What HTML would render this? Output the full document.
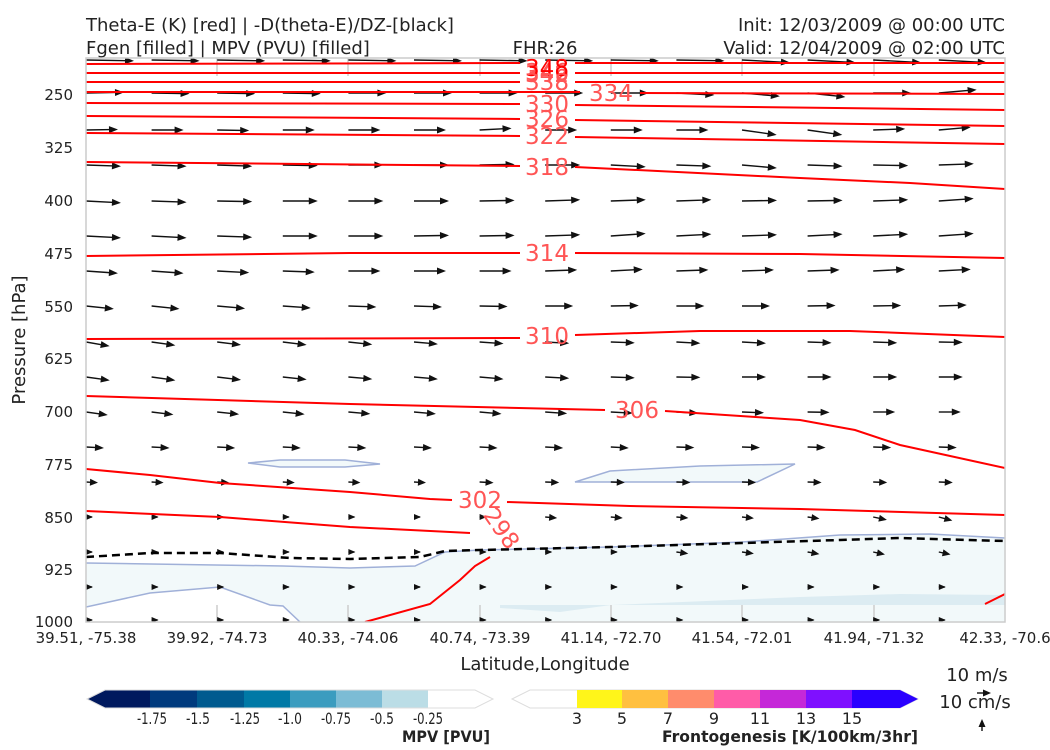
<!DOCTYPE html>
<html><head><meta charset="utf-8"><style>
body{margin:0;background:#fff;}
svg{display:block;font-family:"DejaVu Sans","Liberation Sans",sans-serif;}
</style></head><body>
<svg width="1050" height="750" viewBox="0 0 1050 750" xmlns="http://www.w3.org/2000/svg" xmlns:xlink="http://www.w3.org/1999/xlink">
<defs>
<clipPath id="pc"><rect x="86" y="58" width="919" height="564"/></clipPath>
<g id="a48"><path d="M0,0H41"/><path d="M48,0L39,-3.5L39,3.5Z" stroke="none"/></g>
<g id="a38"><path d="M0,0H31"/><path d="M38,0L29,-3.5L29,3.5Z" stroke="none"/></g>
<g id="a35"><path d="M0,0H28"/><path d="M35,0L26,-3.5L26,3.5Z" stroke="none"/></g>
<g id="a32"><path d="M0,0H25"/><path d="M32,0L23,-3.5L23,3.5Z" stroke="none"/></g>
<g id="a28"><path d="M0,0H21"/><path d="M28,0L19,-3.5L19,3.5Z" stroke="none"/></g>
<g id="a24"><path d="M0,0H17"/><path d="M24,0L15,-3.5L15,3.5Z" stroke="none"/></g>
<g id="a22"><path d="M0,0H15"/><path d="M22,0L13,-3.5L13,3.5Z" stroke="none"/></g>
<g id="a18"><path d="M0,0H11"/><path d="M18,0L9,-3.5L9,3.5Z" stroke="none"/></g>
<g id="a14"><path d="M0,0H7"/><path d="M14,0L6,-3.5L6,3.5Z" stroke="none"/></g>
<g id="a12"><path d="M0,0H5"/><path d="M12,0L4,-3.5L4,3.5Z" stroke="none"/></g>
<g id="a6"><path d="M0,0L6,0"/><path d="M7,0L0,-3L0,3Z" stroke="none"/></g>
</defs>
<g font-size="18" fill="#222">
<text x="86" y="31">Theta-E (K) [red] | -D(theta-E)/DZ-[black]</text>
<text x="86" y="54">Fgen [filled] | MPV (PVU) [filled]</text>
<text x="545" y="54" text-anchor="middle">FHR:26</text>
<text x="1005" y="31" text-anchor="end">Init: 12/03/2009 @ 00:00 UTC</text>
<text x="1005" y="54" text-anchor="end">Valid: 12/04/2009 @ 02:00 UTC</text>
</g>
<g clip-path="url(#pc)">
<path d="M86,563 L283,566 L350,568 L415,566 L445,552 L480,550 L611,547 L742,542 L840,535 L930,534 L1005,538 L1005,622 L300,622 L283,606 L270,605 L220,587 L150,593 L86,607 Z" fill="#f2f9fa" stroke="none"/>
<path d="M500,608 L560,612 L611,605 L800,597 L900,594 L1005,595 L1005,605 L500,605Z" fill="#dcecf2"/>
<path d="M86,563 L283,566 L350,568 L415,566 L445,552 L480,550 L611,547 L742,542 L840,535 L930,534 L1005,538" fill="none" stroke="#a0b0d8" stroke-width="1.5"/>
<path d="M86,607 L150,593 L220,587 L270,605 L283,606 L300,622" fill="none" stroke="#a0b0d8" stroke-width="1.5"/>
<path d="M248,463 L280,460 L345,460 L380,464 L345,467 L280,467 Z" fill="#f2f9fa" stroke="#a0b0d8" stroke-width="1.5"/>
<path d="M575,482 L610,471 L700,466 L795,464 L757,482 Z" fill="#f2f9fa" stroke="#a0b0d8" stroke-width="1.5"/>
<g stroke="#ccc" stroke-width="1.5">
<line x1="217" y1="58" x2="217" y2="76"/><line x1="348" y1="58" x2="348" y2="76"/><line x1="480" y1="58" x2="480" y2="76"/><line x1="611" y1="58" x2="611" y2="76"/><line x1="742" y1="58" x2="742" y2="76"/><line x1="874" y1="58" x2="874" y2="76"/>
<line x1="217" y1="605" x2="217" y2="622"/><line x1="348" y1="605" x2="348" y2="622"/><line x1="480" y1="605" x2="480" y2="622"/><line x1="611" y1="605" x2="611" y2="622"/><line x1="742" y1="605" x2="742" y2="622"/><line x1="874" y1="605" x2="874" y2="622"/>
</g>
<g stroke="#111" fill="#111" stroke-width="1.4">
<g transform="translate(86,60)"><use xlink:href="#a48" transform="translate(0,0) rotate(1)"/><use xlink:href="#a48" transform="translate(65.6,0) rotate(1)"/><use xlink:href="#a48" transform="translate(131.2,0) rotate(1)"/><use xlink:href="#a48" transform="translate(196.8,0) rotate(1)"/><use xlink:href="#a48" transform="translate(262.4,0) rotate(1)"/><use xlink:href="#a48" transform="translate(328,0) rotate(1)"/><use xlink:href="#a48" transform="translate(393.6,0) rotate(1)"/></g>
<g transform="translate(545.2,60)"><use xlink:href="#a48" transform="translate(0,0) rotate(1)"/><use xlink:href="#a48" transform="translate(65.6,0) rotate(1)"/><use xlink:href="#a48" transform="translate(131.2,0) rotate(1)"/><use xlink:href="#a48" transform="translate(196.8,0) rotate(3)"/><use xlink:href="#a48" transform="translate(262.4,0) rotate(3)"/><use xlink:href="#a48" transform="translate(328,0) rotate(3)"/><use xlink:href="#a48" transform="translate(393.6,0) rotate(3)"/></g>
<g transform="translate(86,93)"><use xlink:href="#a38" transform="translate(0,0) rotate(-1)"/><use xlink:href="#a38" transform="translate(65.6,0) rotate(1)"/><use xlink:href="#a38" transform="translate(131.2,0) rotate(1)"/><use xlink:href="#a38" transform="translate(196.8,0) rotate(1)"/><use xlink:href="#a38" transform="translate(262.4,0) rotate(0)"/><use xlink:href="#a38" transform="translate(328,0) rotate(0)"/><use xlink:href="#a38" transform="translate(393.6,0) rotate(0)"/></g>
<g transform="translate(545.2,93)"><use xlink:href="#a38" transform="translate(0,0) rotate(0)"/><use xlink:href="#a38" transform="translate(65.6,0) rotate(0)"/><use xlink:href="#a38" transform="translate(131.2,0) rotate(3)"/><use xlink:href="#a38" transform="translate(196.8,0) rotate(5)"/><use xlink:href="#a38" transform="translate(262.4,0) rotate(6)"/><use xlink:href="#a38" transform="translate(328,0) rotate(0)"/><use xlink:href="#a38" transform="translate(393.6,0) rotate(-5)"/></g>
<g transform="translate(86,130)"><use xlink:href="#a32" transform="translate(0,0) rotate(-1)"/><use xlink:href="#a32" transform="translate(65.6,0) rotate(0)"/><use xlink:href="#a32" transform="translate(131.2,0) rotate(1)"/><use xlink:href="#a32" transform="translate(196.8,0) rotate(0)"/><use xlink:href="#a32" transform="translate(262.4,0) rotate(0)"/><use xlink:href="#a32" transform="translate(328,0) rotate(0)"/><use xlink:href="#a32" transform="translate(393.6,0) rotate(-3)"/></g>
<g transform="translate(545.2,130)"><use xlink:href="#a32" transform="translate(0,0) rotate(0)"/><use xlink:href="#a32" transform="translate(65.6,0) rotate(0)"/><use xlink:href="#a32" transform="translate(131.2,0) rotate(0)"/><use xlink:href="#a35" transform="translate(196.8,0) rotate(8)"/><use xlink:href="#a35" transform="translate(262.4,0) rotate(8)"/><use xlink:href="#a32" transform="translate(328,0) rotate(-2)"/><use xlink:href="#a32" transform="translate(393.6,0) rotate(-5)"/></g>
<g transform="translate(86,165)"><use xlink:href="#a35" transform="translate(0,0) rotate(2)"/><use xlink:href="#a35" transform="translate(65.6,0) rotate(2)"/><use xlink:href="#a35" transform="translate(131.2,0) rotate(2)"/><use xlink:href="#a35" transform="translate(196.8,0) rotate(1)"/><use xlink:href="#a35" transform="translate(262.4,0) rotate(0)"/><use xlink:href="#a35" transform="translate(328,0) rotate(0)"/><use xlink:href="#a35" transform="translate(393.6,0) rotate(-1)"/></g>
<g transform="translate(545.2,165)"><use xlink:href="#a35" transform="translate(0,0) rotate(0)"/><use xlink:href="#a35" transform="translate(65.6,0) rotate(3)"/><use xlink:href="#a35" transform="translate(131.2,0) rotate(2)"/><use xlink:href="#a35" transform="translate(196.8,0) rotate(5)"/><use xlink:href="#a35" transform="translate(262.4,0) rotate(2)"/><use xlink:href="#a35" transform="translate(328,0) rotate(1)"/><use xlink:href="#a35" transform="translate(393.6,0) rotate(-2)"/></g>
<g transform="translate(86,201)"><use xlink:href="#a35" transform="translate(0,0) rotate(3)"/><use xlink:href="#a35" transform="translate(65.6,0) rotate(2)"/><use xlink:href="#a35" transform="translate(131.2,0) rotate(1)"/><use xlink:href="#a35" transform="translate(196.8,0) rotate(0)"/><use xlink:href="#a35" transform="translate(262.4,0) rotate(0)"/><use xlink:href="#a35" transform="translate(328,0) rotate(0)"/><use xlink:href="#a35" transform="translate(393.6,0) rotate(-1)"/></g>
<g transform="translate(545.2,201)"><use xlink:href="#a35" transform="translate(0,0) rotate(-2)"/><use xlink:href="#a35" transform="translate(65.6,0) rotate(-2)"/><use xlink:href="#a35" transform="translate(131.2,0) rotate(-2)"/><use xlink:href="#a35" transform="translate(196.8,0) rotate(-1)"/><use xlink:href="#a35" transform="translate(262.4,0) rotate(-1)"/><use xlink:href="#a35" transform="translate(328,0) rotate(-2)"/><use xlink:href="#a35" transform="translate(393.6,0) rotate(-4)"/></g>
<g transform="translate(86,236)"><use xlink:href="#a35" transform="translate(0,0) rotate(3)"/><use xlink:href="#a35" transform="translate(65.6,0) rotate(3)"/><use xlink:href="#a35" transform="translate(131.2,0) rotate(2)"/><use xlink:href="#a35" transform="translate(196.8,0) rotate(0)"/><use xlink:href="#a35" transform="translate(262.4,0) rotate(0)"/><use xlink:href="#a35" transform="translate(328,0) rotate(-1)"/><use xlink:href="#a35" transform="translate(393.6,0) rotate(-1)"/></g>
<g transform="translate(545.2,236)"><use xlink:href="#a35" transform="translate(0,0) rotate(-2)"/><use xlink:href="#a35" transform="translate(65.6,0) rotate(-4)"/><use xlink:href="#a35" transform="translate(131.2,0) rotate(-3)"/><use xlink:href="#a35" transform="translate(196.8,0) rotate(-2)"/><use xlink:href="#a35" transform="translate(262.4,0) rotate(-3)"/><use xlink:href="#a35" transform="translate(328,0) rotate(-3)"/><use xlink:href="#a35" transform="translate(393.6,0) rotate(-4)"/></g>
<g transform="translate(86,271)"><use xlink:href="#a32" transform="translate(0,0) rotate(4)"/><use xlink:href="#a32" transform="translate(65.6,0) rotate(4)"/><use xlink:href="#a32" transform="translate(131.2,0) rotate(3)"/><use xlink:href="#a32" transform="translate(196.8,0) rotate(2)"/><use xlink:href="#a32" transform="translate(262.4,0) rotate(0)"/><use xlink:href="#a32" transform="translate(328,0) rotate(0)"/><use xlink:href="#a32" transform="translate(393.6,0) rotate(0)"/></g>
<g transform="translate(545.2,271)"><use xlink:href="#a32" transform="translate(0,0) rotate(-2)"/><use xlink:href="#a32" transform="translate(65.6,0) rotate(-3)"/><use xlink:href="#a32" transform="translate(131.2,0) rotate(-2)"/><use xlink:href="#a32" transform="translate(196.8,0) rotate(-2)"/><use xlink:href="#a32" transform="translate(262.4,0) rotate(-2)"/><use xlink:href="#a32" transform="translate(328,0) rotate(-3)"/><use xlink:href="#a32" transform="translate(393.6,0) rotate(-3)"/></g>
<g transform="translate(86,306)"><use xlink:href="#a28" transform="translate(0,0) rotate(6)"/><use xlink:href="#a28" transform="translate(65.6,0) rotate(6)"/><use xlink:href="#a28" transform="translate(131.2,0) rotate(5)"/><use xlink:href="#a28" transform="translate(196.8,0) rotate(4)"/><use xlink:href="#a28" transform="translate(262.4,0) rotate(2)"/><use xlink:href="#a28" transform="translate(328,0) rotate(2)"/><use xlink:href="#a28" transform="translate(393.6,0) rotate(1)"/></g>
<g transform="translate(545.2,306)"><use xlink:href="#a28" transform="translate(0,0) rotate(0)"/><use xlink:href="#a28" transform="translate(65.6,0) rotate(-1)"/><use xlink:href="#a28" transform="translate(131.2,0) rotate(0)"/><use xlink:href="#a28" transform="translate(196.8,0) rotate(0)"/><use xlink:href="#a28" transform="translate(262.4,0) rotate(-1)"/><use xlink:href="#a28" transform="translate(328,0) rotate(-1)"/><use xlink:href="#a28" transform="translate(393.6,0) rotate(-2)"/></g>
<g transform="translate(86,342)"><use xlink:href="#a26" transform="translate(0,0) rotate(8)"/><use xlink:href="#a24" transform="translate(0,0) rotate(10)"/><use xlink:href="#a24" transform="translate(65.6,0) rotate(8)"/><use xlink:href="#a24" transform="translate(131.2,0) rotate(7)"/><use xlink:href="#a24" transform="translate(196.8,0) rotate(7)"/><use xlink:href="#a24" transform="translate(262.4,0) rotate(6)"/><use xlink:href="#a24" transform="translate(328,0) rotate(5)"/><use xlink:href="#a24" transform="translate(393.6,0) rotate(4)"/></g>
<g transform="translate(545.2,342)"><use xlink:href="#a24" transform="translate(0,0) rotate(3)"/><use xlink:href="#a24" transform="translate(65.6,0) rotate(2)"/><use xlink:href="#a24" transform="translate(131.2,0) rotate(3)"/><use xlink:href="#a24" transform="translate(196.8,0) rotate(3)"/><use xlink:href="#a24" transform="translate(262.4,0) rotate(2)"/><use xlink:href="#a24" transform="translate(328,0) rotate(2)"/><use xlink:href="#a24" transform="translate(393.6,0) rotate(1)"/></g>
<g transform="translate(86,377)"><use xlink:href="#a24" transform="translate(0,0) rotate(8)"/><use xlink:href="#a24" transform="translate(65.6,0) rotate(8)"/><use xlink:href="#a24" transform="translate(131.2,0) rotate(7)"/><use xlink:href="#a24" transform="translate(196.8,0) rotate(6)"/><use xlink:href="#a24" transform="translate(262.4,0) rotate(5)"/><use xlink:href="#a24" transform="translate(328,0) rotate(5)"/><use xlink:href="#a24" transform="translate(393.6,0) rotate(5)"/></g>
<g transform="translate(545.2,377)"><use xlink:href="#a24" transform="translate(0,0) rotate(3)"/><use xlink:href="#a24" transform="translate(65.6,0) rotate(2)"/><use xlink:href="#a24" transform="translate(131.2,0) rotate(1)"/><use xlink:href="#a24" transform="translate(196.8,0) rotate(0)"/><use xlink:href="#a24" transform="translate(262.4,0) rotate(0)"/><use xlink:href="#a24" transform="translate(328,0) rotate(0)"/><use xlink:href="#a24" transform="translate(393.6,0) rotate(0)"/></g>
<g transform="translate(86,412)"><use xlink:href="#a22" transform="translate(0,0) rotate(8)"/><use xlink:href="#a22" transform="translate(65.6,0) rotate(7)"/><use xlink:href="#a22" transform="translate(131.2,0) rotate(6)"/><use xlink:href="#a22" transform="translate(196.8,0) rotate(6)"/><use xlink:href="#a22" transform="translate(262.4,0) rotate(5)"/><use xlink:href="#a22" transform="translate(328,0) rotate(5)"/><use xlink:href="#a22" transform="translate(393.6,0) rotate(5)"/></g>
<g transform="translate(545.2,412)"><use xlink:href="#a22" transform="translate(0,0) rotate(4)"/><use xlink:href="#a22" transform="translate(65.6,0) rotate(3)"/><use xlink:href="#a22" transform="translate(131.2,0) rotate(3)"/><use xlink:href="#a22" transform="translate(196.8,0) rotate(2)"/><use xlink:href="#a22" transform="translate(262.4,0) rotate(1)"/><use xlink:href="#a22" transform="translate(328,0) rotate(0)"/><use xlink:href="#a22" transform="translate(393.6,0) rotate(0)"/></g>
<g transform="translate(86,447)"><use xlink:href="#a18" transform="translate(0,0) rotate(3)"/><use xlink:href="#a18" transform="translate(65.6,0) rotate(3)"/><use xlink:href="#a18" transform="translate(131.2,0) rotate(3)"/><use xlink:href="#a18" transform="translate(196.8,0) rotate(3)"/><use xlink:href="#a18" transform="translate(262.4,0) rotate(3)"/><use xlink:href="#a18" transform="translate(328,0) rotate(3)"/><use xlink:href="#a18" transform="translate(393.6,0) rotate(3)"/></g>
<g transform="translate(545.2,447)"><use xlink:href="#a18" transform="translate(0,0) rotate(3)"/><use xlink:href="#a18" transform="translate(65.6,0) rotate(3)"/><use xlink:href="#a18" transform="translate(131.2,0) rotate(2)"/><use xlink:href="#a18" transform="translate(196.8,0) rotate(2)"/><use xlink:href="#a18" transform="translate(262.4,0) rotate(2)"/><use xlink:href="#a18" transform="translate(328,0) rotate(2)"/><use xlink:href="#a18" transform="translate(393.6,0) rotate(2)"/></g>
<g transform="translate(86,482)"><use xlink:href="#a12" transform="translate(0,0) rotate(3)"/><use xlink:href="#a12" transform="translate(65.6,0) rotate(3)"/><use xlink:href="#a12" transform="translate(131.2,0) rotate(3)"/><use xlink:href="#a12" transform="translate(196.8,0) rotate(3)"/><use xlink:href="#a12" transform="translate(262.4,0) rotate(3)"/><use xlink:href="#a12" transform="translate(328,0) rotate(3)"/><use xlink:href="#a14" transform="translate(393.6,0) rotate(3)"/></g>
<g transform="translate(545.2,482)"><use xlink:href="#a14" transform="translate(0,0) rotate(2)"/><use xlink:href="#a14" transform="translate(65.6,0) rotate(2)"/><use xlink:href="#a14" transform="translate(131.2,0) rotate(2)"/><use xlink:href="#a14" transform="translate(196.8,0) rotate(2)"/><use xlink:href="#a14" transform="translate(262.4,0) rotate(2)"/><use xlink:href="#a14" transform="translate(328,0) rotate(2)"/><use xlink:href="#a14" transform="translate(393.6,0) rotate(2)"/></g>
<g transform="translate(86,517)"><use xlink:href="#a6" transform="translate(0,0)"/><use xlink:href="#a6" transform="translate(65.6,0)"/><use xlink:href="#a6" transform="translate(131.2,0)"/><use xlink:href="#a6" transform="translate(196.8,0)"/><use xlink:href="#a6" transform="translate(262.4,0)"/><use xlink:href="#a6" transform="translate(328,0)"/><use xlink:href="#a6" transform="translate(393.6,0)"/></g>
<g transform="translate(545.2,517)"><use xlink:href="#a12" transform="translate(0,0) rotate(5)"/><use xlink:href="#a12" transform="translate(65.6,0) rotate(5)"/><use xlink:href="#a12" transform="translate(131.2,0) rotate(5)"/><use xlink:href="#a12" transform="translate(196.8,0) rotate(6)"/><use xlink:href="#a12" transform="translate(262.4,0) rotate(8)"/><use xlink:href="#a14" transform="translate(328,0) rotate(12)"/><use xlink:href="#a14" transform="translate(393.6,0) rotate(15)"/></g>
<g transform="translate(86,552)"><use xlink:href="#a6" transform="translate(0,0)"/><use xlink:href="#a6" transform="translate(65.6,0)"/><use xlink:href="#a6" transform="translate(131.2,0)"/><use xlink:href="#a6" transform="translate(196.8,0)"/><use xlink:href="#a6" transform="translate(262.4,0)"/><use xlink:href="#a6" transform="translate(328,0)"/><use xlink:href="#a6" transform="translate(393.6,0)"/></g>
<g transform="translate(545.2,552)"><use xlink:href="#a6" transform="translate(0,0)"/><use xlink:href="#a6" transform="translate(65.6,0)"/><use xlink:href="#a12" transform="translate(131.2,0) rotate(8)"/><use xlink:href="#a12" transform="translate(196.8,0) rotate(8)"/><use xlink:href="#a12" transform="translate(262.4,0) rotate(10)"/><use xlink:href="#a12" transform="translate(328,0) rotate(12)"/><use xlink:href="#a12" transform="translate(393.6,0) rotate(12)"/></g>
<g transform="translate(86,587)"><use xlink:href="#a6" transform="translate(0,0)"/><use xlink:href="#a6" transform="translate(65.6,0)"/><use xlink:href="#a6" transform="translate(131.2,0)"/><use xlink:href="#a6" transform="translate(196.8,0)"/><use xlink:href="#a6" transform="translate(262.4,0)"/><use xlink:href="#a6" transform="translate(328,0)"/><use xlink:href="#a6" transform="translate(393.6,0)"/></g>
<g transform="translate(545.2,587)"><use xlink:href="#a6" transform="translate(0,0)"/><use xlink:href="#a6" transform="translate(65.6,0)"/><use xlink:href="#a6" transform="translate(131.2,0)"/><use xlink:href="#a6" transform="translate(196.8,0)"/><use xlink:href="#a6" transform="translate(262.4,0)"/><use xlink:href="#a6" transform="translate(328,0)"/><use xlink:href="#a6" transform="translate(393.6,0)"/></g>
<g transform="translate(86,620)"><use xlink:href="#a6" transform="translate(0,0)"/><use xlink:href="#a6" transform="translate(65.6,0)"/><use xlink:href="#a6" transform="translate(131.2,0)"/><use xlink:href="#a6" transform="translate(196.8,0)"/><use xlink:href="#a6" transform="translate(262.4,0)"/><use xlink:href="#a6" transform="translate(328,0)"/><use xlink:href="#a6" transform="translate(393.6,0)"/></g>
<g transform="translate(545.2,620)"><use xlink:href="#a6" transform="translate(0,0)"/><use xlink:href="#a6" transform="translate(65.6,0)"/><use xlink:href="#a6" transform="translate(131.2,0)"/><use xlink:href="#a6" transform="translate(196.8,0)"/><use xlink:href="#a6" transform="translate(262.4,0)"/><use xlink:href="#a6" transform="translate(328,0)"/><use xlink:href="#a6" transform="translate(393.6,0)"/></g>
</g>
<path d="M86,557 L150,553 L220,553 L290,558 L350,559 L420,557 L445,551 L480,550 L611,547 L742,543 L840,540 L900,538 L1005,541" fill="none" stroke="#000" stroke-width="2.5" stroke-dasharray="8,5"/>
<g fill="none" stroke="#f00" stroke-width="2">
<path d="M86,64 L520,63 M575,63 L1005,63"/>
<path d="M86,73 L520,73 M575,73 L1005,73"/>
<path d="M86,82 L520,82 M575,82 L1005,82"/>
<path d="M86,92 L580,92 M640,93 L1005,94"/>
<path d="M86,103 L520,104 M575,105 L1005,110"/>
<path d="M86,116 L520,119 M575,120 L1005,126"/>
<path d="M86,133 L520,136 M575,137 L1005,144"/>
<path d="M86,162 L520,166 M575,167 L800,178 L910,183 L1005,189"/>
<path d="M86,256 L350,253 L520,253 M575,253 L800,254 L1005,258"/>
<path d="M86,339 L520,338 M575,335 L700,331 L850,331 L1005,337"/>
<path d="M86,396 L350,404 L605,410 M665,411 L800,420 L855,430 L900,445 L1005,468"/>
<path d="M86,469 L150,475 L220,483 L350,492 L430,499 L452,500 M507,502 L630,506 L800,509 L1005,515"/>
<path d="M86,511 L220,517 L350,527 L470,533"/>
<path d="M490,557 L475,566 L460,580 L430,604 L365,622"/>
<path d="M985,604 L1005,594"/>
</g>
<g fill="#ff5555" font-size="23" text-anchor="middle">
<text x="547" y="80">346</text><text x="547" y="82">342</text><text x="547" y="76" fill="#f00">348</text>
<text x="547" y="90">338</text>
<text x="611" y="101">334</text>
<text x="547" y="112">330</text>
<text x="547" y="127">326</text>
<text x="547" y="144">322</text>
<text x="547" y="175">318</text>
<text x="547" y="261">314</text>
<text x="547" y="344">310</text>
<text x="637" y="418">306</text>
<text x="480" y="508">302</text>
<text x="0" y="0" transform="translate(495,533) rotate(55)">298</text>
</g>
</g>
<rect x="86" y="58" width="919" height="564" fill="none" stroke="#ccc" stroke-width="1.5"/>
<g font-size="15" fill="#222" text-anchor="end">
<text x="73" y="100">250</text><text x="73" y="153">325</text><text x="73" y="206">400</text><text x="73" y="259">475</text><text x="73" y="312">550</text><text x="73" y="364">625</text><text x="73" y="417">700</text><text x="73" y="470">775</text><text x="73" y="523">850</text><text x="73" y="575">925</text><text x="73" y="627">1000</text>
</g>
<text transform="translate(25,340) rotate(-90)" font-size="18" fill="#222" text-anchor="middle">Pressure [hPa]</text>
<g font-size="15" fill="#222" text-anchor="middle">
<text x="86" y="643">39.51, -75.38</text><text x="217" y="643">39.92, -74.73</text><text x="348" y="643">40.33, -74.06</text><text x="480" y="643">40.74, -73.39</text><text x="611" y="643">41.14, -72.70</text><text x="742" y="643">41.54, -72.01</text><text x="874" y="643">41.94, -71.32</text><text x="1005" y="643">42.33, -70.6</text>
</g>
<text x="545" y="670" font-size="18" fill="#222" text-anchor="middle">Latitude,Longitude</text>
<g stroke="none">
<path d="M87,699 L105,690 L150,690 L150,708 L105,708 Z" fill="#00195e"/>
<rect x="150" y="690" width="47" height="18" fill="#003a7d"/>
<rect x="197" y="690" width="47" height="18" fill="#005a8f"/>
<rect x="244" y="690" width="46" height="18" fill="#0079a6"/>
<rect x="290" y="690" width="46" height="18" fill="#3b9cbf"/>
<rect x="336" y="690" width="46" height="18" fill="#7cbcd5"/>
<rect x="382" y="690" width="46" height="18" fill="#bbdde6"/>
<path d="M87,699 L105,690 L475,690 L493,699 L475,708 L105,708 Z" fill="none" stroke="#ddd"/>
<path d="M512,699 L530,690 L900,690 L918,699 L900,708 L530,708 Z" fill="none" stroke="#ddd"/>
<rect x="577" y="690" width="45" height="18" fill="#fff51a"/>
<rect x="622" y="690" width="46" height="18" fill="#ffc040"/>
<rect x="668" y="690" width="46" height="18" fill="#ff8c6c"/>
<rect x="714" y="690" width="46" height="18" fill="#ff5ca8"/>
<rect x="760" y="690" width="46" height="18" fill="#c528d8"/>
<rect x="806" y="690" width="46" height="18" fill="#7f10ff"/>
<path d="M852,690 L900,690 L918,699 L900,708 L852,708 Z" fill="#2a00ff"/>
</g>
<g font-size="16" fill="#222" text-anchor="middle">
<text x="152" y="724" textLength="30" lengthAdjust="spacingAndGlyphs">-1.75</text><text x="198" y="724" textLength="24" lengthAdjust="spacingAndGlyphs">-1.5</text><text x="245" y="724" textLength="30" lengthAdjust="spacingAndGlyphs">-1.25</text><text x="290" y="724" textLength="24" lengthAdjust="spacingAndGlyphs">-1.0</text><text x="336" y="724" textLength="30" lengthAdjust="spacingAndGlyphs">-0.75</text><text x="382" y="724" textLength="24" lengthAdjust="spacingAndGlyphs">-0.5</text><text x="428" y="724" textLength="30" lengthAdjust="spacingAndGlyphs">-0.25</text>
<text x="577" y="724">3</text><text x="622" y="724">5</text><text x="668" y="724">7</text><text x="714" y="724">9</text><text x="760" y="724">11</text><text x="806" y="724">13</text><text x="852" y="724">15</text>
</g>
<g font-size="16" font-weight="bold" fill="#222" text-anchor="end">
<text x="490" y="742" textLength="88" lengthAdjust="spacingAndGlyphs">MPV [PVU]</text><text x="918" y="742" textLength="256" lengthAdjust="spacingAndGlyphs">Frontogenesis [K/100km/3hr]</text>
</g>
<g font-size="18" fill="#222" text-anchor="middle">
<text x="977" y="681">10 m/s</text><text x="975" y="708">10 cm/s</text>
</g>
<g stroke="#111" fill="#111" stroke-width="1.4">
<use xlink:href="#a14" transform="translate(977,693)"/>
<use xlink:href="#a12" transform="translate(982,731) rotate(-90)"/>
</g>
</svg>
</body></html>
